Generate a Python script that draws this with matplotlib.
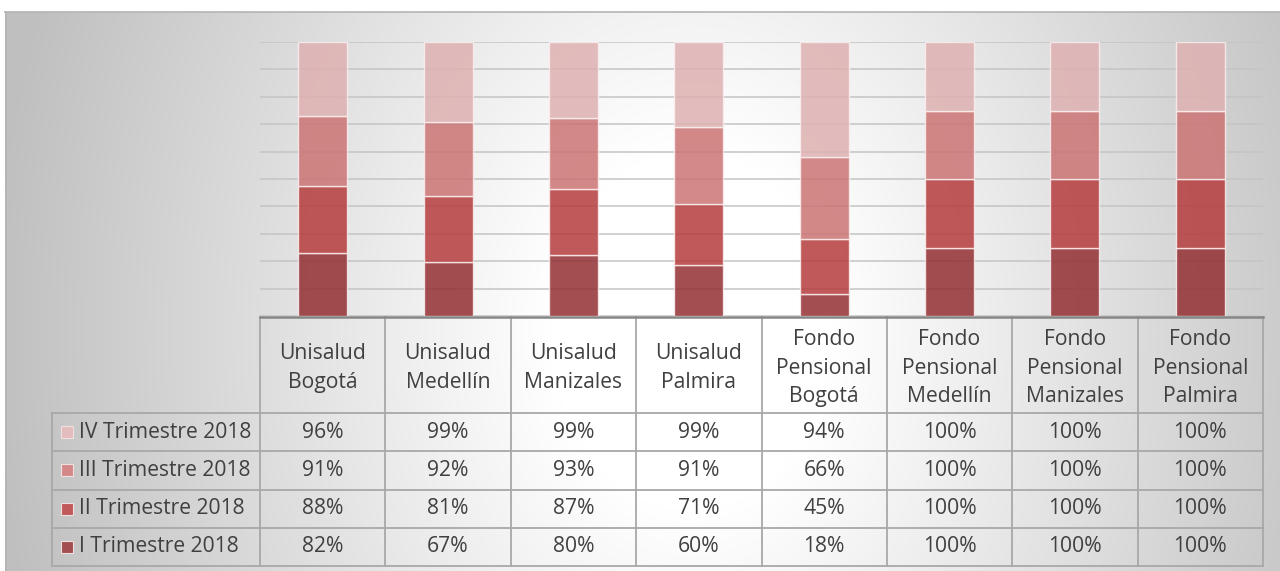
import numpy as np
import matplotlib
matplotlib.use("Agg")
import matplotlib.pyplot as plt
from matplotlib.patches import Rectangle
from matplotlib.transforms import blended_transform_factory

plt.rcParams['font.family'] = ['Open Sans', 'DejaVu Sans']

categories = ["Unisalud\nBogotá", "Unisalud\nMedellín", "Unisalud\nManizales", "Unisalud\nPalmira",
              "Fondo\nPensional\nBogotá", "Fondo\nPensional\nMedellín",
              "Fondo\nPensional\nManizales", "Fondo\nPensional\nPalmira"]
series_names = ["I Trimestre 2018", "II Trimestre 2018", "III Trimestre 2018", "IV Trimestre 2018"]
q1 = [82, 67, 80, 60, 18, 100, 100, 100]
q2 = [88, 81, 87, 71, 45, 100, 100, 100]
q3 = [91, 92, 93, 91, 66, 100, 100, 100]
q4 = [96, 99, 99, 99, 94, 100, 100, 100]
series = [q1, q2, q3, q4]
bar_colors = ["#932f32", "#b53c3d", "#cc7474", "#deb0b1"]
legend_colors = ["#a34e51", "#c0595a", "#d48989", "#e3bcbd"]
text_color = "#404040"
FS = 15.2

W, H = 1280, 571
fig = plt.figure(figsize=(12.8, 5.71), dpi=100)

# background gradient
bg = fig.add_axes([0, 0, 1, 1])
yy, xx = np.mgrid[0:H, 0:W]
d = np.sqrt(((xx - 690) / 700.0) ** 2 + ((yy - 330) / 900.0) ** 2)
v = 1 - 0.25 * np.clip((d - 0.2) / 0.8, 0, 1)
img = np.dstack([v, v, v])
img[:12, :, :] = 1
img[:, :5, :] = 1
bg.imshow(img, extent=(0, W, H, 0), aspect='auto', interpolation='bilinear')
bg.set_xlim(0, W)
bg.set_ylim(H, 0)
bg.axis('off')
bg.plot([5, W], [12, 12], color="#b4b4b4", lw=1.2)
bg.plot([5.5, 5.5], [12, H], color="#b4b4b4", lw=1.2)

# bar axes
x0, x1, ytop, ybot = 260, 1263, 42, 316
ax = fig.add_axes([x0 / W, 1 - ybot / H, (x1 - x0) / W, (ybot - ytop) / H])
ax.patch.set_alpha(0)
ax.set_xlim(-0.5, len(categories) - 0.5)
ax.set_ylim(0, 1)
ax.set_yticks(np.linspace(0, 1, 11))
ax.grid(axis='y', color='#c4c4c4', lw=1.1)
ax.set_axisbelow(True)
for s in ax.spines.values():
    s.set_visible(False)
ax.tick_params(left=False, bottom=False, labelleft=False, labelbottom=False)

xpos = np.arange(len(categories))
totals = np.sum(np.array(series, dtype=float), axis=0)
bottom = np.zeros(len(categories))
for vals, col in zip(series, bar_colors):
    frac = np.array(vals, dtype=float) / totals
    ax.bar(xpos, frac, 0.39, bottom=bottom, color=col, alpha=0.85,
           edgecolor='#fbeeee', linewidth=1.0, zorder=3)
    bottom += frac

# overlay for table
ov = fig.add_axes([0, 0, 1, 1])
ov.patch.set_alpha(0)
ov.set_xlim(0, W)
ov.set_ylim(H, 0)
ov.axis('off')
trans = blended_transform_factory(ax.transData, ov.transData)

line_c = "#a8a8a8"
row_edges = [413, 451, 489.5, 528, 566]
header_top = 317
for y in row_edges:
    ov.plot([52, x1], [y, y], color=line_c, lw=1.3)
ov.plot([52, 52], [row_edges[0], row_edges[-1]], color=line_c, lw=1.3)
for k in range(len(categories) + 1):
    ov.plot([k - 0.5, k - 0.5], [header_top, row_edges[-1]], color=line_c, lw=1.3, transform=trans)
ov.plot([x0, x1], [316.5, 316.5], color="#868686", lw=1.8)

# headers
for i, c in enumerate(categories):
    ov.text(i, 368, c, transform=trans, ha='center', va='center',
            fontsize=FS, color=text_color, linespacing=1.46)

# rows: IV on top
for r, si in enumerate([3, 2, 1, 0]):
    yc = (row_edges[r] + row_edges[r + 1]) / 2
    ov.add_patch(Rectangle((61, yc - 6), 12, 12, facecolor=legend_colors[si],
                           edgecolor='#f0e0e0', lw=0.8))
    ov.text(79, yc, series_names[si], ha='left', va='center', fontsize=FS, color=text_color)
    for i, val in enumerate(series[si]):
        ov.text(i, yc, f"{val}%", transform=trans, ha='center', va='center',
                fontsize=FS, color=text_color)

fig.savefig("out.png", dpi=100)
